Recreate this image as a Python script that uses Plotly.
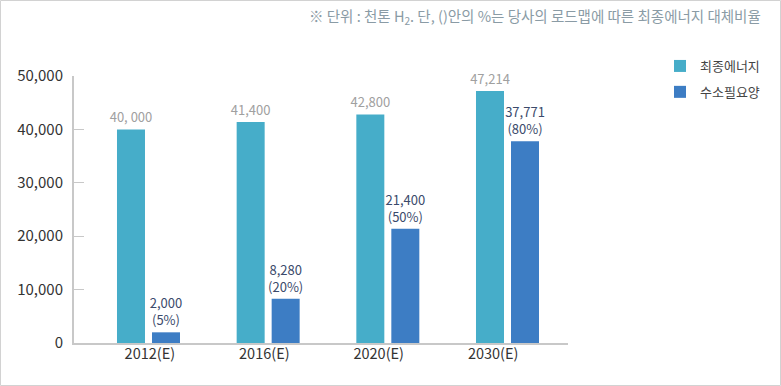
import plotly.graph_objects as go

categories = ["2012(E)", "2016(E)", "2020(E)", "2030(E)"]
final_energy = [40000, 41400, 42800, 47214]
hydrogen = [2000, 8280, 21400, 37771]
final_energy_labels = ["40, 000", "41,400", "42,800", "47,214"]
hydrogen_labels = ["2,000<br>(5%)", "8,280<br>(20%)", "21,400<br>(50%)", "37,771<br>(80%)"]
series_names = ["최종에너지", "수소필요양"]
y_ticks = [0, 10000, 20000, 30000, 40000, 50000]
note = "※ 단위 : 천톤 H<sub>2</sub>. 단, ()안의 %는 당사의 로드맵에 따른 최종에너지 대체비율"

FONT = "Noto Sans CJK KR"
W, H = 781, 386
ML, MR, MT, MB = 74, 213, 76, 43
pw = W - ML - MR
ph = H - MT - MB

fig = go.Figure()
fig.add_trace(go.Bar(
    x=categories, y=final_energy, name=series_names[0],
    marker=dict(color="#46adc9", line=dict(width=0)),
    text=final_energy_labels, textposition="outside", cliponaxis=False,
    constraintext="none",
    textfont=dict(color="#a0a0a0", size=13, family=FONT),
    legendgroup="a",
))
fig.add_trace(go.Bar(
    x=categories, y=hydrogen, name=series_names[1],
    marker=dict(color="#3d7dc4", line=dict(width=0)),
    text=hydrogen_labels, textposition="outside", cliponaxis=False,
    constraintext="none",
    textfont=dict(color="#3b4a6b", size=13, family=FONT),
    legendgroup="b",
))
# empty carrier trace so the category-label axis is rendered
fig.add_trace(go.Scatter(
    x=categories, y=[None] * len(categories), xaxis="x2", yaxis="y",
    mode="markers", showlegend=False, hoverinfo="skip",
))

fig.update_layout(
    width=W, height=H,
    margin=dict(l=ML, r=MR, t=MT, b=MB),
    paper_bgcolor="white", plot_bgcolor="white",
    font=dict(family=FONT, color="#333333"),
    barmode="group", bargap=0.415, bargroupgap=0.2,
    showlegend=True,
    legend=dict(
        x=(660 - ML) / pw, y=1 + (MT - 51) / ph, xanchor="left", yanchor="top",
        font=dict(size=13, color="#444444", family=FONT),
        traceorder="grouped", tracegroupgap=6, itemwidth=30,
        bgcolor="rgba(0,0,0,0)",
    ),
    xaxis=dict(
        type="category", range=[-0.6225, 3.5056],
        showline=True, linecolor="#c8c8c8", linewidth=2,
        ticks="", showgrid=False, zeroline=False, showticklabels=False,
    ),
    xaxis2=dict(
        type="category", overlaying="x", anchor="y", side="bottom",
        range=[-0.663, 3.654],
        showline=False, ticks="", showgrid=False, zeroline=False,
        tickfont=dict(size=14.5, color="#333333", family=FONT),
    ),
    yaxis=dict(
        range=[0, 50000], tickvals=y_ticks,
        tickformat=",d",
        showline=True, linecolor="#c8c8c8", linewidth=2,
        ticks="inside", ticklen=10, tickcolor="#c8c8c8", tickwidth=1,
        showgrid=False, zeroline=False,
        tickfont=dict(size=15, color="#333333", family=FONT),
        ticklabelstandoff=6,
    ),
    annotations=[dict(
        text=note, xref="paper", yref="paper",
        x=(763 - ML) / pw, y=1 + (MT - 17) / ph,
        xanchor="right", yanchor="middle", showarrow=False,
        font=dict(size=14.5, color="#8a9ba5", family=FONT),
    )],
    shapes=[dict(
        type="rect", xref="paper", yref="paper",
        x0=(0.5 - ML) / pw, x1=(780.5 - ML) / pw,
        y0=-(MB - 0.5) / ph, y1=1 + (MT - 0.5) / ph,
        line=dict(color="#d2d2d2", width=1), layer="below",
    )],
)

fig.write_html(
    "out.html",
    config={"displayModeBar": False},
    post_script="document.body.style.margin='0';document.body.style.overflow='hidden';",
)
